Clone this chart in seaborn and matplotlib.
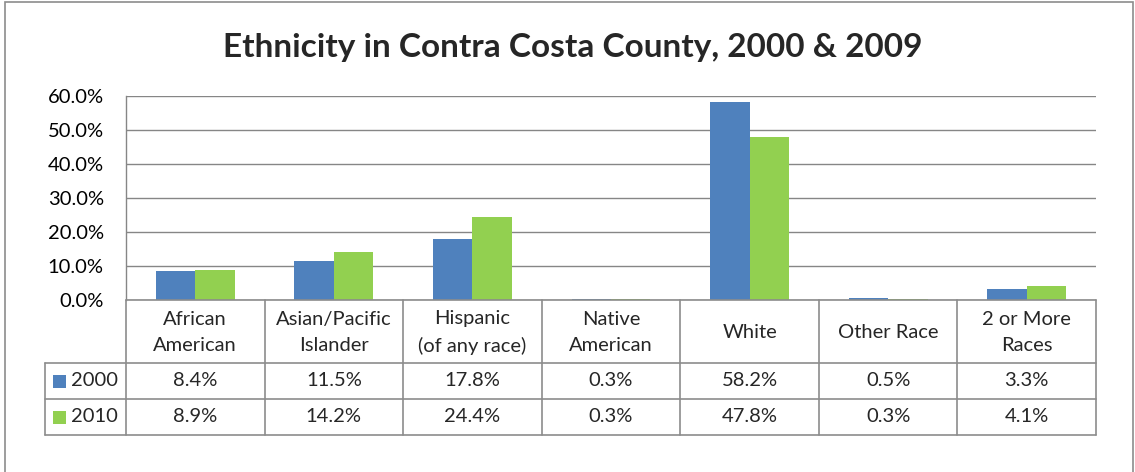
import matplotlib
matplotlib.use("Agg")
import matplotlib.pyplot as plt
import matplotlib.transforms as mtransforms
from matplotlib.patches import Rectangle
from matplotlib.lines import Line2D
import seaborn as sns
import pandas as pd

categories = ["African\nAmerican", "Asian/Pacific\nIslander", "Hispanic\n(of any race)",
              "Native\nAmerican", "White", "Other Race", "2 or More\nRaces"]
years = ["2000", "2010"]
values_2000 = [8.4, 11.5, 17.8, 0.3, 58.2, 0.5, 3.3]
values_2010 = [8.9, 14.2, 24.4, 0.3, 47.8, 0.3, 4.1]
yticks = [0, 10, 20, 30, 40, 50, 60]
title = "Ethnicity in Contra Costa County, 2000 & 2009"
colors = ["#4F81BD", "#92D050"]

df = pd.DataFrame({
    "cat": categories * 2,
    "year": [years[0]] * len(categories) + [years[1]] * len(categories),
    "val": values_2000 + values_2010,
})

sns.set_style("white")
plt.rcParams["font.family"] = ["Lato", "DejaVu Sans"]

W, H = 1135, 472
fig = plt.figure(figsize=(W / 100, H / 100), dpi=100)
ax = fig.add_axes([126 / W, 1 - 300 / H, (1096 - 126) / W, (300 - 96) / H])

sns.barplot(data=df, x="cat", y="val", hue="year", palette=colors, width=0.57,
            gap=0, linewidth=0, saturation=1, ax=ax, legend=False)

grid = "#868686"
fs = 14.5
ax.set_ylim(0, 60)
ax.set_xlim(-0.5, len(categories) - 0.5)
ax.set_yticks(yticks)
ax.set_yticklabels([f"{v:.1f}%" for v in yticks], fontsize=fs, color="black")
ax.yaxis.grid(True, color=grid, linewidth=1)
ax.set_axisbelow(True)
ax.tick_params(axis="y", length=0, pad=16)
ax.set_xticks([])
ax.set_xlabel("")
ax.set_ylabel("")
for s in ["top", "right", "bottom"]:
    ax.spines[s].set_visible(False)
ax.spines["left"].set_color(grid)
ax.spines["left"].set_linewidth(1)

fig.text(573 / W, 1 - 47 / H, title, ha="center", va="center",
         fontsize=24, fontweight="bold")

# data table
tr = mtransforms.blended_transform_factory(ax.transData, fig.transFigure)
def fy(py):
    return 1 - py / H

n = len(categories)
x_left_rows = -0.5 - (126 - 45) / ((1096 - 126) / n)
y_head_top, y_head_bot, y_r1, y_r2 = 300, 363, 399, 435
lc = "#8C8C8C"
lw = 1.2
fig.add_artist(Line2D([-0.5, n - 0.5], [fy(y_head_top)] * 2, transform=tr, color=lc, lw=lw))
for yy in [y_head_bot, y_r1, y_r2]:
    fig.add_artist(Line2D([x_left_rows, n - 0.5], [fy(yy)] * 2, transform=tr, color=lc, lw=lw))
for i in range(n + 1):
    fig.add_artist(Line2D([i - 0.5] * 2, [fy(y_head_top), fy(y_r2)], transform=tr, color=lc, lw=lw))
fig.add_artist(Line2D([x_left_rows] * 2, [fy(y_head_bot), fy(y_r2)], transform=tr, color=lc, lw=lw))

for i, c in enumerate(categories):
    fig.text(i, fy((y_head_top + y_head_bot) / 2 + 1), c, transform=tr, ha="center",
             va="center", fontsize=fs, linespacing=1.6)
rows = [values_2000, values_2010]
row_ys = [(y_head_bot + y_r1) / 2, (y_r1 + y_r2) / 2]
for r, (vals, ry) in enumerate(zip(rows, row_ys)):
    for i, v in enumerate(vals):
        fig.text(i, fy(ry), f"{v:.1f}%", transform=tr, ha="center", va="center", fontsize=fs)
    fig.add_artist(Rectangle((53 / W, fy(ry + 6.5)), 13 / W, 13 / H,
                             transform=fig.transFigure, color=colors[r], lw=0))
    fig.text(71 / W, fy(ry), years[r], ha="left", va="center", fontsize=fs)

fig.add_artist(Rectangle((5 / W, -0.05), (1133 - 5) / W, 1.05 - 2 / H,
                         transform=fig.transFigure, fill=False, edgecolor="#8C8C8C", lw=1.2))

fig.savefig("out.png", dpi=100, facecolor="white")
